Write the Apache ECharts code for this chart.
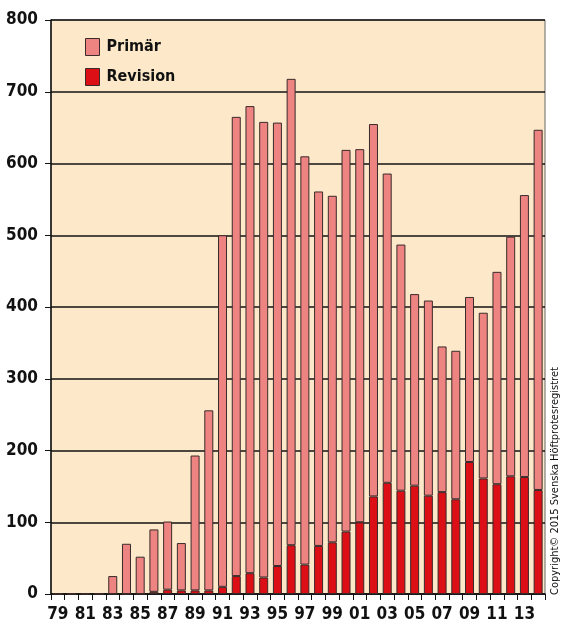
<!DOCTYPE html>
<html style="height: 100%">
<head>
<meta charset="utf-8">
<script src="https://cdn.jsdelivr.net/npm/echarts@6/dist/echarts.min.js"></script>
<title>Primär och revision</title>
</head>
<body style="height: 100%; margin: 0; background: #fff">
<div id="container" style="width: 566px; height: 629px"></div>
<script type="text/javascript">
// years 1979..2014
var years = [];
for (var y = 1979; y <= 2014; y++) years.push(y);

// total operations per year (top of pink bar)
var totals = [0, 0, 0, 0, 25, 70, 52, 90, 101, 71, 193, 256, 500, 665, 680, 658, 657, 718,
              610, 561, 555, 619, 620, 655, 586, 487, 418, 409, 345, 339, 414, 392, 449, 498, 556, 647];
// revisions per year
var revision = [0, 0, 0, 0, 0, 0, 0, 3, 6, 5, 5, 5, 10, 25, 29, 23, 39, 68,
                41, 67, 72, 87, 100, 136, 155, 144, 151, 137, 142, 132, 184, 161, 153, 164, 163, 145];
var primar = totals.map(function (t, i) { return t - revision[i]; });

var yTicks = { min: 0, max: 800, interval: 100 };
var font = '"DejaVu Sans Condensed", sans-serif';

var chart = echarts.init(document.getElementById('container'));
chart.setOption({
    animation: false,
    grid: {
        left: 51, right: 21, top: 20, bottom: 35,
        show: true,
        backgroundColor: '#FDE9C9',
        borderColor: '#666',
        borderWidth: 1
    },
    legend: {
        orient: 'vertical',
        left: 80, top: 33,
        icon: 'rect',
        itemWidth: 14, itemHeight: 17,
        itemGap: 12,
        data: ['Primär', 'Revision'],
        itemStyle: { borderColor: '#3a2a2a', borderWidth: 1 },
        textStyle: { fontFamily: font, fontWeight: 'bold', fontSize: 16, color: '#111', padding: [0, 0, 0, 2] }
    },
    xAxis: {
        type: 'category',
        data: years,
        axisLine: { lineStyle: { color: '#111', width: 1.5 } },
        axisTick: { show: true, interval: 0, length: 6, lineStyle: { color: '#111' } },
        axisLabel: {
            interval: 1,
            margin: 12,
            formatter: function (v) { return String(v).slice(2); },
            fontFamily: font, fontWeight: 'bold', fontSize: 17, color: '#111'
        }
    },
    yAxis: {
        type: 'value',
        min: yTicks.min, max: yTicks.max, interval: yTicks.interval,
        axisLine: { show: true, lineStyle: { color: '#111', width: 1.5 } },
        axisTick: { show: true, length: 6, lineStyle: { color: '#111' } },
        splitLine: { lineStyle: { color: '#111', width: 1.5 } },
        axisLabel: {
            margin: 13,
            fontFamily: font, fontWeight: 'bold', fontSize: 17, color: '#111'
        }
    },
    series: [
        {
            name: 'Revision',
            type: 'bar',
            stack: 'all',
            barWidth: 9,
            data: revision,
            itemStyle: { color: '#DC0F16', borderColor: '#3a2a2a', borderWidth: 1 }
        },
        {
            name: 'Primär',
            type: 'bar',
            stack: 'all',
            barWidth: 9,
            data: primar,
            itemStyle: { color: '#EE8482', borderColor: '#3a2a2a', borderWidth: 1 }
        }
    ],
    graphic: [{
        type: 'text',
        x: 550, y: 595,
        rotation: Math.PI / 2,
        style: {
            text: 'Copyright© 2015 Svenska Höftprotesregistret',
            fontFamily: font, fontSize: 11, fill: '#111',
            textAlign: 'left', textVerticalAlign: 'top'
        }
    }]
});
</script>
</body>
</html>
